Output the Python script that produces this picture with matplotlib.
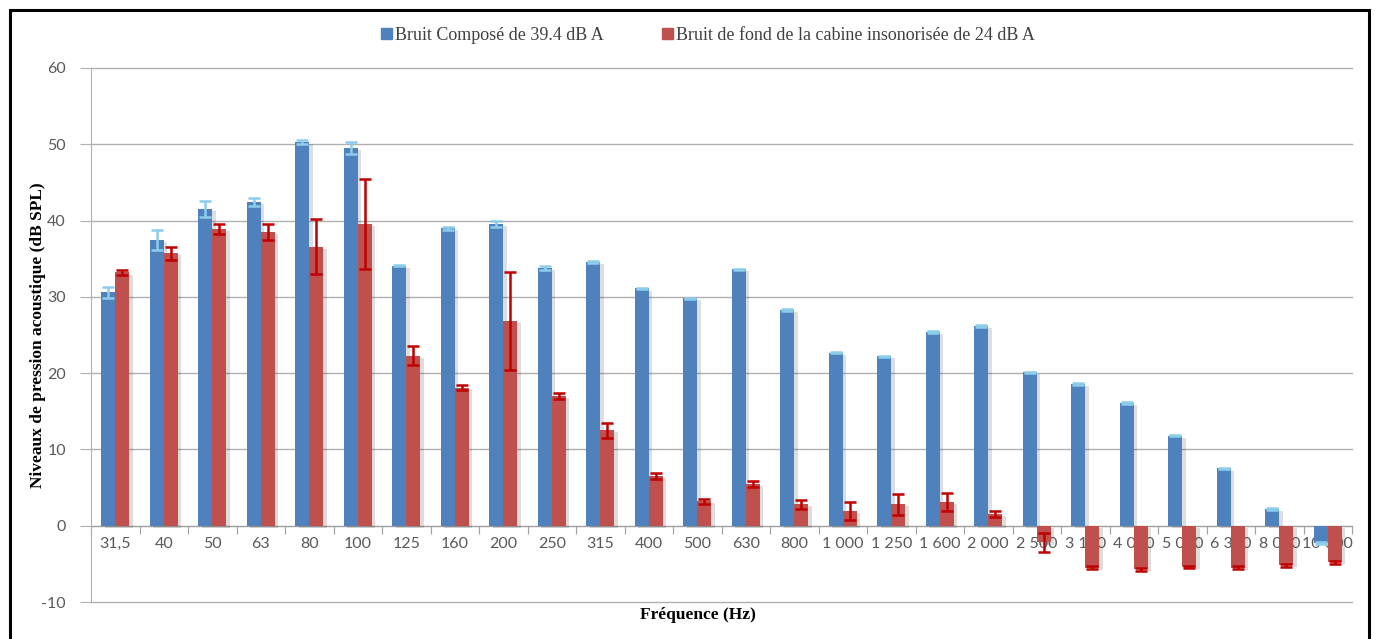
import matplotlib
matplotlib.use("Agg")
import matplotlib.pyplot as plt
import matplotlib.patheffects as pe
from matplotlib.patches import Rectangle
import numpy as np

# frequences (Hz)
freqs = ["31,5", "40", "50", "63", "80", "100", "125", "160", "200", "250", "315",
         "400", "500", "630", "800", "1 000", "1 250", "1 600", "2 000", "2 500",
         "3 150", "4 000", "5 000", "6 300", "8 000", "10 000"]

# bruit composé 39.4 dB A
bruit = [30.6, 37.4, 41.5, 42.4, 50.3, 49.5, 34.1, 39.0, 39.5, 33.8, 34.6,
         31.1, 29.8, 33.6, 28.3, 22.7, 22.2, 25.4, 26.2, 20.1,
         18.6, 16.1, 11.8, 7.5, 2.2, -2.3]
bruit_err = [0.7, 1.3, 1.0, 0.5, 0.3, 0.8, 0.1, 0.2, 0.4, 0.3, 0.1,
             0.1, 0.1, 0.1, 0.1, 0.1, 0.1, 0.1, 0.1, 0.1,
             0.1, 0.1, 0.1, 0.1, 0.1, 0.1]

# bruit de fond cabine 24 dB A
fond = [33.2, 35.7, 38.9, 38.5, 36.6, 39.5, 22.3, 18.1, 26.8, 17.0, 12.5,
        6.5, 3.2, 5.5, 2.8, 1.9, 2.8, 3.1, 1.5, -2.2,
        -5.5, -5.7, -5.4, -5.5, -5.2, -4.8]
fond_err = [0.3, 0.9, 0.7, 1.1, 3.6, 5.9, 1.2, 0.3, 6.4, 0.4, 1.0,
            0.4, 0.3, 0.4, 0.6, 1.2, 1.4, 1.2, 0.4, 1.2,
            0.2, 0.2, 0.1, 0.2, 0.2, 0.2]

plt.rcParams["axes.unicode_minus"] = False
serif = ["Liberation Serif", "DejaVu Serif"]
gris = "#595959"
bleu = "#4F81BD"
rouge = "#C0504D"

fig = plt.figure(figsize=(13.75, 6.39), dpi=100)
ax = fig.add_axes([0.0662, 0.0579, 0.9171, 0.8357])

x = np.arange(len(freqs))
w = 0.29
ombre = [pe.SimplePatchShadow(offset=(2.5, -1.5), alpha=0.15), pe.Normal()]

b1 = ax.bar(x - w / 2, bruit, w, color=bleu, zorder=3)
b2 = ax.bar(x + w / 2, fond, w, color=rouge, zorder=3)
for b in list(b1) + list(b2):
    b.set_path_effects(ombre)

ax.errorbar(x - w / 2, bruit, yerr=bruit_err, fmt="none", ecolor="#8CCDEB",
            elinewidth=1.8, capsize=4, capthick=1.8, zorder=4)
ax.errorbar(x + w / 2, fond, yerr=fond_err, fmt="none", ecolor="#C00000",
            elinewidth=1.8, capsize=4, capthick=1.8, zorder=4)

ax.set_xlim(-0.5, len(freqs) - 0.5)
ax.set_ylim(-10, 60)
ax.set_yticks(range(-10, 61, 10))
ax.yaxis.grid(True, color="#B0B0B0", linewidth=1)
for g in ax.get_ygridlines():
    g.set_clip_on(False)
ax.set_axisbelow(True)

for s in ["top", "right"]:
    ax.spines[s].set_visible(False)
ax.spines["left"].set_color("#B0B0B0")
ax.spines["bottom"].set_color("#A0A0A0")
ax.spines["bottom"].set_position(("data", 0))
ax.spines["bottom"].set_zorder(2)

ax.set_xticks(np.arange(-0.5, len(freqs), 1))
ax.set_xticklabels([])
ax.set_xticks(x, minor=True)
ax.set_xticklabels(freqs, minor=True, fontfamily="Lato", fontsize=11.5, color=gris)
ax.tick_params(axis="x", which="major", length=6, color="#A0A0A0", direction="out")
ax.tick_params(axis="x", which="minor", length=0, pad=8)
ax.tick_params(axis="y", length=8, color="#B0B0B0", labelsize=11.5,
               labelcolor=gris, pad=10)
for t in ax.get_yticklabels():
    t.set_fontfamily("Lato")

ax.set_ylabel("Niveaux de pression acoustique (dB SPL)", fontfamily=serif,
              fontweight="bold", fontsize=12.5)
ax.yaxis.set_label_coords(-0.036, 0.5)
fig.text(0.5075, 0.037, "Fréquence (Hz)", fontfamily=serif, fontweight="bold",
         fontsize=12.5, ha="center", va="center")

poignees = [Rectangle((0, 0), 1, 1, color=bleu), Rectangle((0, 0), 1, 1, color=rouge)]
fig.legend(poignees, ["Bruit Composé de 39.4 dB A",
                      "Bruit de fond de la cabine insonorisée de 24 dB A"],
           loc="center", bbox_to_anchor=(0.515, 0.945), ncol=2, frameon=False,
           prop={"family": serif, "size": 13}, labelcolor="#404040",
           handlelength=0.6, handleheight=0.6, handletextpad=0.2, columnspacing=3.2)

# cadre
fig.patches.append(Rectangle((9.5 / 1375, -0.1), 1359 / 1375, 1.1 - 9.5 / 639,
                             transform=fig.transFigure, fill=False,
                             edgecolor="black", linewidth=2.2, zorder=10))

fig.savefig("out.png", dpi=100, facecolor="white")
